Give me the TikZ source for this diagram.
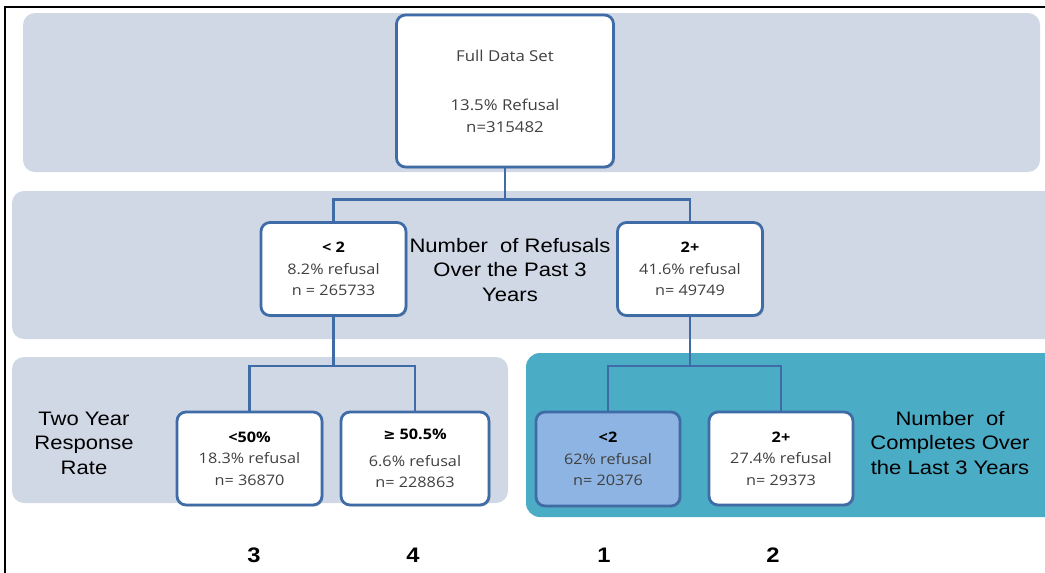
\documentclass[tikz,border=0pt]{standalone}
\usepackage{fontspec}
\setmainfont{Liberation Sans}
\newfontfamily\lblfont[FakeStretch=1.13]{Liberation Sans}
\newfontfamily\boxfont[FakeStretch=1.12]{Open Sans}
\newfontfamily\symfont{DejaVu Sans}
\usetikzlibrary{shadows}
\definecolor{bandc}{RGB}{208,216,230}
\definecolor{tealc}{RGB}{75,172,198}
\definecolor{edgec}{RGB}{63,108,166}
\definecolor{hilite}{RGB}{141,180,226}
\definecolor{txtc}{RGB}{64,64,64}
\begin{document}
\begin{tikzpicture}[x=1pt,y=-1pt,
  band/.style={fill=bandc,draw=none,rounded corners=12pt},
  tbox/.style={draw=edgec,line width=2.8pt,fill=white,rounded corners=9pt,
    align=center,inner sep=0pt,text=txtc,
    font=\boxfont\fontsize{14.5}{21.5}\selectfont,
    drop shadow={shadow xshift=1.5pt,shadow yshift=-1.5pt,opacity=0.35}},
  conn/.style={draw=edgec,line width=2.4pt},
  lbl/.style={align=center,font=\lblfont\fontsize{19.5}{24.5}\selectfont,text=black},
  num/.style={font=\lblfont\bfseries\fontsize{21}{24}\selectfont,text=black}]
\useasboundingbox (0,0) rectangle (1045,573);
% frame
\draw[black,line width=2pt] (5,573) -- (5,7) -- (1045,7);
% bands
\fill[band] (23,13) rectangle (1040,172);
\begin{scope}
\clip (0,0) rectangle (1045,573);
\fill[band] (12,191) rectangle (1070,339);
\fill[band] (12,357) rectangle (508,503);
\fill[fill=tealc,rounded corners=14pt] (526,353) rectangle (1075,517);
\end{scope}
% boxes
\node[tbox,minimum width=217pt,minimum height=152pt,font=\boxfont\fontsize{15}{22}\selectfont] (full) at (505,91)
  {Full Data Set\\[27pt]13.5\% Refusal\\n=315482};
\node[tbox,minimum width=145pt,minimum height=93pt] (lt) at (333.5,269)
  {\textbf{\textcolor{black}{< 2}}\\8.2\% refusal\\n = 265733};
\node[tbox,minimum width=145pt,minimum height=93pt] (rt) at (690,269)
  {\textbf{\textcolor{black}{2+}}\\41.6\% refusal\\n= 49749};
\node[tbox,minimum width=145pt,minimum height=93pt] (b3) at (249.5,458.5)
  {\textbf{\textcolor{black}{<50\%}}\\18.3\% refusal\\n= 36870};
\node[tbox,minimum width=148pt,minimum height=93pt] (b4) at (415,458.5)
  {\textbf{\textcolor{black}{{\symfont ≥} 50.5\%}}\\[5pt]6.6\% refusal\\n= 228863};
\node[tbox,fill=hilite,minimum width=144pt,minimum height=94pt] (b1) at (608,459)
  {\textbf{\textcolor{black}{<2}}\\62\% refusal\\n= 20376};
\node[tbox,minimum width=144pt,minimum height=93pt] (b2) at (781,458.5)
  {\textbf{\textcolor{black}{2+}}\\27.4\% refusal\\n= 29373};
% labels
\node[lbl] (l1) at (510,270) {Number\ \ of Refusals\\Over the Past 3\\Years};
\node[lbl] (l2) at (84,443) {Two Year\\Response\\Rate};
\node[lbl] (l3) at (950,443) {Number\ \ of\\Completes Over\\the Last 3 Years};
% numbers
\node[num] (n3) at (254,555) {3};
\node[num] (n4) at (413,555) {4};
\node[num] (n1) at (604,555) {1};
\node[num] (n2) at (773,555) {2};
% connectors
\draw[conn] (full.south) -- ++(0,31) coordinate (j1) -| (lt.north);
\draw[conn] (j1) -| (rt.north);
\draw[conn] (lt.south) -- ++(0,49) coordinate (j2) -| (b3.north);
\draw[conn] (j2) -| (b4.north);
\draw[conn] (rt.south) -- ++(0,49) coordinate (j3) -| (b1.north);
\draw[conn] (j3) -| (b2.north);
\end{tikzpicture}
\end{document}
